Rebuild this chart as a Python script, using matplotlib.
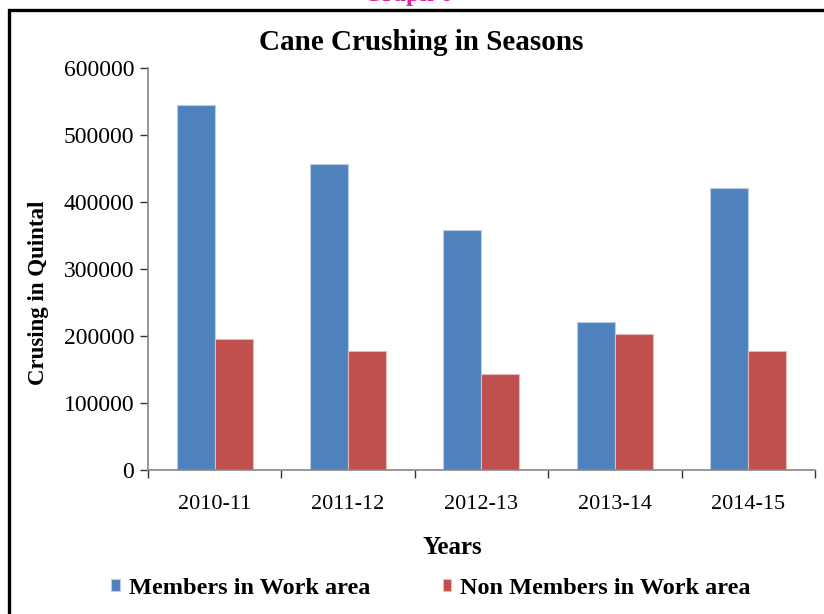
import numpy as np
import matplotlib.pyplot as plt
from matplotlib.patches import Rectangle

years = ['2010-11', '2011-12', '2012-13', '2013-14', '2014-15']
members = [545000, 457000, 358000, 221000, 421000]
non_members = [196000, 178000, 143000, 203000, 178000]

plt.rcParams['font.family'] = ['Liberation Serif', 'DejaVu Serif']

fig = plt.figure(figsize=(8.24, 6.14), dpi=100)
ax = fig.add_axes([0.1796, 0.2345, 0.8094, 0.6545])

x = np.arange(len(years))
w = 0.285
ax.bar(x - w / 2, members, w, color='#4F81BD', edgecolor='#B9CDE5', linewidth=0.8,
       label='Members in Work area')
ax.bar(x + w / 2, non_members, w, color='#C0504D', edgecolor='#E6B9B8', linewidth=0.8,
       label='Non Members in Work area')

ax.set_xlim(-0.5, len(years) - 0.5)
ax.set_ylim(0, 600000)
ax.set_yticks(range(0, 600001, 100000))
ax.set_yticklabels([str(v) for v in range(0, 600001, 100000)], fontsize=17)
ax.set_xticks(x)
ax.set_xticklabels(years, fontsize=16)
ax.set_xticks(np.arange(-0.5, len(years)), minor=True)
ax.tick_params(axis='x', which='major', length=0, pad=18)
ax.tick_params(axis='x', which='minor', length=6, color='#333333', width=1)
ax.tick_params(axis='y', length=6, color='#333333', width=1, pad=4)

for s in ['top', 'right']:
    ax.spines[s].set_visible(False)
for s in ['left', 'bottom']:
    ax.spines[s].set_color('#868686')
    ax.spines[s].set_linewidth(1.2)

fig.text(421 / 824, 1 - 42 / 614, 'Cane Crushing in Seasons', fontsize=21,
         fontweight='bold', ha='center', va='center')
fig.text(452 / 824, 1 - 547 / 614, 'Years', fontsize=18, fontweight='bold',
         ha='center', va='center')
ax.set_ylabel('Crusing in Quintal', fontsize=16.5, fontweight='bold')
ax.yaxis.set_label_coords(-0.149, 0.44)

handles, labels = ax.get_legend_handles_labels()
fig.legend(handles, labels, loc='center', bbox_to_anchor=(431 / 824, 1 - 588 / 614),
           ncol=2, frameon=False, prop={'weight': 'bold', 'size': 17.5},
           handlelength=0.35, handleheight=0.35, handletextpad=0.37,
           columnspacing=3.0)

# outer frame of the original page
fig.patches.append(Rectangle((9 / 824, -0.1), 1.2, 1 - 10 / 614 + 0.1,
                             transform=fig.transFigure, fill=False,
                             edgecolor='black', linewidth=2.4))
fig.text(0.495, 1 - 1 / 614, 'Graph 6', color='#E020A0', fontsize=18,
         fontweight='bold', ha='center', va='baseline')

fig.savefig('out.png', dpi=100)
